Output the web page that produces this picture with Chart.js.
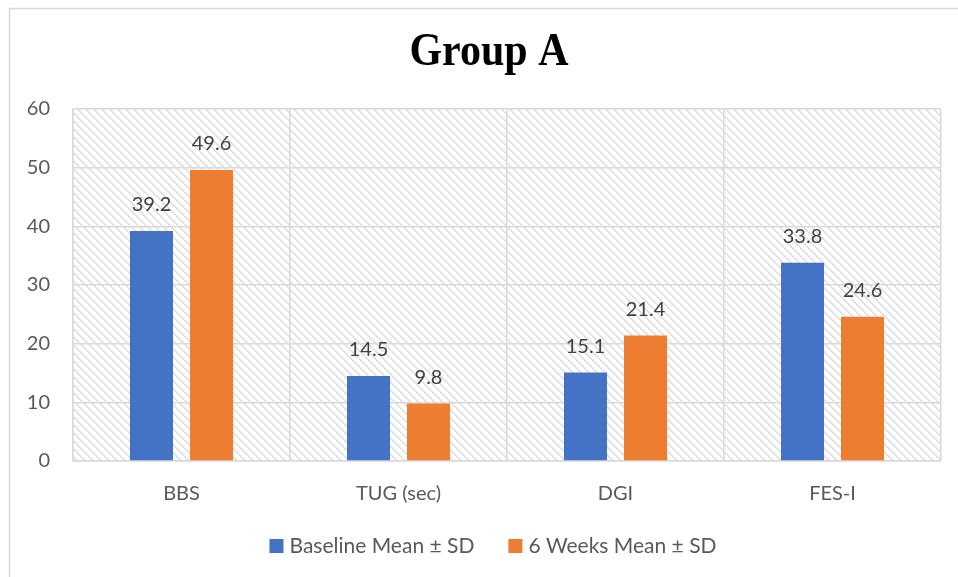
<!DOCTYPE html>
<html>
<head>
<meta charset="utf-8">
<script src="https://cdn.jsdelivr.net/npm/chart.js@4/dist/chart.umd.min.js"></script>
<style>
  html, body { margin: 0; padding: 0; background: #ffffff; }
  #wrap { width: 958px; height: 577px; }
</style>
</head>
<body>
<div id="wrap"><canvas id="c" width="958" height="577"></canvas></div>
<script>
// Outcome measures and group means
const categories = ['BBS', 'TUG (sec)', 'DGI', 'FES-I'];
const baselineMeans = [39.2, 14.5, 15.1, 33.8];
const sixWeekMeans = [49.6, 9.8, 21.4, 24.6];
const seriesNames = ['Baseline Mean \u00b1 SD', '6 Weeks Mean \u00b1 SD'];
const chartTitle = 'Group A';
const yMin = 0, yMax = 60, yStep = 10;

const BLUE = '#4472C4';
const ORANGE = '#ED7D31';
const GRID = '#d9d9d9';
const TEXT = '#595959';
const SANS = 'Lato, "Open Sans", sans-serif';

// Light diagonal hatch used behind the plot
function makeHatch() {
  const t = document.createElement('canvas');
  t.width = 8; t.height = 8;
  const g = t.getContext('2d');
  g.fillStyle = '#ffffff';
  g.fillRect(0, 0, 8, 8);
  g.fillStyle = '#dedede';
  for (let i = 0; i < 8; i++) {
    g.fillRect(i, i, 2, 1);
    if (i === 7) g.fillRect(0, 7, 1, 1);
  }
  return g.createPattern(t, 'repeat');
}

const frameAndHatch = {
  id: 'frameAndHatch',
  beforeDraw(chart) {
    const { ctx, chartArea: a } = chart;
    ctx.save();
    ctx.fillStyle = '#ffffff';
    ctx.fillRect(0, 0, chart.width, chart.height);
    // outer chart frame
    ctx.strokeStyle = GRID;
    ctx.lineWidth = 1.5;
    ctx.beginPath();
    ctx.moveTo(9.5, chart.height);
    ctx.lineTo(9.5, 8.5);
    ctx.lineTo(chart.width, 8.5);
    ctx.stroke();
    // hatched plot background
    ctx.fillStyle = makeHatch();
    ctx.fillRect(a.left, a.top, a.right - a.left, a.bottom - a.top);
    ctx.restore();
  }
};

const valueLabels = {
  id: 'valueLabels',
  afterDatasetsDraw(chart) {
    const { ctx } = chart;
    ctx.save();
    ctx.font = '20px ' + SANS;
    ctx.fillStyle = '#404040';
    ctx.textAlign = 'center';
    ctx.textBaseline = 'middle';
    chart.data.datasets.forEach((ds, di) => {
      chart.getDatasetMeta(di).data.forEach((el, i) => {
        ctx.fillText(ds.data[i].toFixed(1), el.x, el.y - 26);
      });
    });
    ctx.restore();
  }
};

const titleAndLegend = {
  id: 'titleAndLegend',
  afterDraw(chart) {
    const { ctx } = chart;
    ctx.save();
    // title
    ctx.fillStyle = '#000000';
    ctx.font = 'bold 42px "Liberation Serif", "Times New Roman", serif';
    ctx.textAlign = 'center';
    ctx.textBaseline = 'alphabetic';
    ctx.translate(489, 65);
    ctx.scale(1, 1.12);
    ctx.fillText(chartTitle, 0, 0);
    ctx.setTransform(1, 0, 0, 1, 0, 0);

    // legend
    ctx.font = '21px ' + SANS;
    ctx.textAlign = 'left';
    ctx.textBaseline = 'middle';
    const box = 14, gapText = 6, gapItem = 34;
    const colors = chart.data.datasets.map(d => d.backgroundColor);
    const names = chart.data.datasets.map(d => d.label);
    const widths = names.map(n => ctx.measureText(n).width);
    let total = 0;
    widths.forEach((w, i) => { total += box + gapText + w + (i < widths.length - 1 ? gapItem : 0); });
    let x = 493 - total / 2;
    const cy = 546;
    names.forEach((n, i) => {
      ctx.fillStyle = colors[i];
      ctx.fillRect(x, cy - box / 2, box, box);
      ctx.fillStyle = TEXT;
      ctx.fillText(n, x + box + gapText, cy);
      x += box + gapText + widths[i] + gapItem;
    });
    ctx.restore();
  }
};

new Chart(document.getElementById('c'), {
  type: 'bar',
  data: {
    labels: categories,
    datasets: [
      { label: seriesNames[0], data: baselineMeans, backgroundColor: BLUE,
        categoryPercentage: 0.553, barPercentage: 0.717 },
      { label: seriesNames[1], data: sixWeekMeans, backgroundColor: ORANGE,
        categoryPercentage: 0.553, barPercentage: 0.717 }
    ]
  },
  options: {
    responsive: false,
    animation: false,
    devicePixelRatio: 1,
    layout: { padding: { left: 9, right: 17, top: 109, bottom: 66 } },
    plugins: {
      legend: { display: false },
      title: { display: false },
      tooltip: { enabled: false }
    },
    scales: {
      x: {
        grid: { color: GRID, lineWidth: 1.5, drawTicks: false, offset: true },
        border: { color: GRID, width: 1.5 },
        ticks: { color: TEXT, font: { family: SANS, size: 20 }, padding: 21 },
        afterFit(s) { s.height = 50; }
      },
      y: {
        min: yMin, max: yMax,
        grid: { color: GRID, lineWidth: 1.5, drawTicks: false },
        border: { color: GRID, width: 1.5 },
        ticks: { stepSize: yStep, color: TEXT, font: { family: SANS, size: 20 }, padding: 23 },
        afterFit(s) { s.width = 64; }
      }
    }
  },
  plugins: [frameAndHatch, valueLabels, titleAndLegend]
});
</script>
</body>
</html>
